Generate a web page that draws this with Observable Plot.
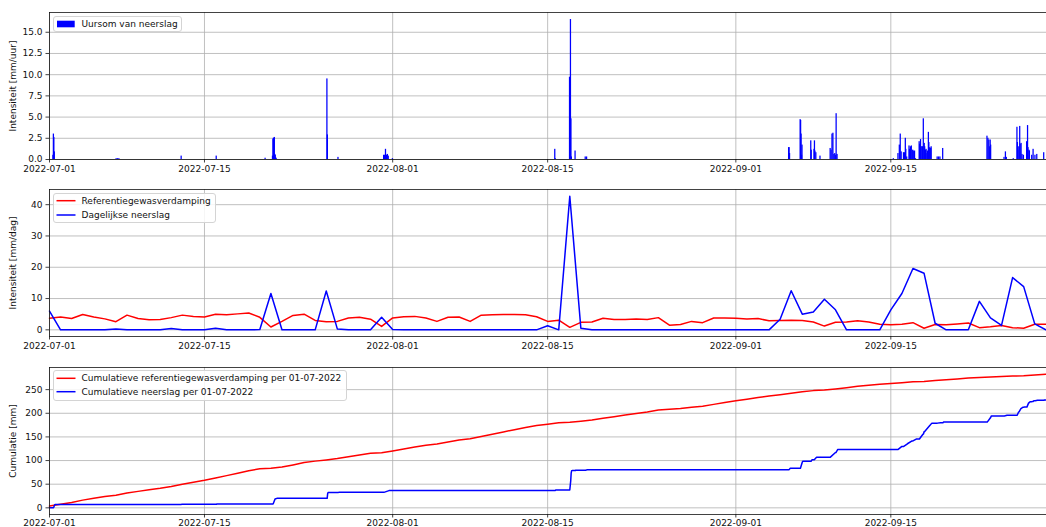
<!DOCTYPE html>
<html>
<head>
<meta charset="utf-8">
<script src="https://cdn.jsdelivr.net/npm/d3@7"></script>
<script src="https://cdn.jsdelivr.net/npm/@observablehq/plot@0.6"></script>
<style>
html, body { margin: 0; padding: 0; background: #fff; overflow: hidden; }
#root { position: relative; width: 1046px; height: 527px; font-family: "DejaVu Sans", sans-serif; }
.panel { position: absolute; left: 0; }
.legend { position: absolute; overflow: visible; }
</style>
</head>
<body>
<div id="root"></div>
<script>
// ---------- DATA ----------
const startDay = "2022-07-01";
const endDay = "2022-09-29"; // last daily value

// daily values, 1 July .. 29 September 2022 (mm/dag)
const dailyEvaporation = [
  3.7,4.1,3.6,4.9,4.1,3.5,2.6,4.7,3.6,3.2,
  3.3,3.9,4.7,4.3,4.1,5.0,4.8,5.1,5.4,4.0,
  0.9,2.7,4.6,5.0,3.0,2.6,2.7,3.8,4.0,3.4,
  1.1,3.8,4.2,4.3,3.8,2.7,4.0,4.1,2.7,4.7,
  4.8,4.9,4.9,4.8,4.2,2.7,3.1,0.8,2.4,2.5,
  3.7,3.3,3.3,3.5,3.3,3.9,1.5,1.7,2.7,2.3,
  3.8,3.8,3.7,3.5,3.6,2.9,3.0,3.1,3.0,2.5,
  1.2,2.4,2.5,2.9,2.5,1.8,1.6,1.8,2.3,0.5,
  1.7,1.6,1.9,2.2,0.7,1.0,1.4,0.7,0.5,1.8,
  1.8
];
const dailyPrecipitation = [
  6.0,0,0,0,0,0,0.3,0,0,0,
  0,0.4,0,0,0,0.5,0,0,0,0.1,
  11.6,0,0,0,0,12.4,0.3,0,0,0,
  4.0,0.1,0,0,0,0,0,0,0,0,
  0,0,0,0,0,1.3,0,42.7,0.5,0,
  0,0,0,0,0,0,0,0,0,0,
  0,0,0,0,0,0,3.4,12.5,5.0,5.7,
  9.8,6.4,0,0,0,0,6.4,11.6,19.6,18.1,
  2.1,0,0,0,9.1,3.8,1.4,16.7,13.8,1.9,
  0
];
// cumulative reference evaporation (mm), same days
const cumulativeEvaporation = [
  3.7,7.8,11.4,16.3,20.4,23.9,26.5,31.2,34.8,38.0,
  41.3,45.2,49.9,54.2,58.3,63.3,68.1,73.2,78.6,82.6,
  83.5,86.2,90.8,95.8,98.8,101.4,104.1,107.9,111.9,115.3,
  116.4,120.2,124.4,128.7,132.5,135.2,139.2,143.3,146.0,150.7,
  155.5,160.4,165.3,170.1,174.3,177.0,180.1,180.9,183.3,185.8,
  189.5,192.8,196.1,199.6,202.9,206.8,208.3,210.0,212.7,215.0,
  218.8,222.6,226.3,229.8,233.4,236.3,239.3,242.4,245.4,247.9,
  249.1,251.5,254.0,256.9,259.4,261.2,262.8,264.6,266.9,267.4,
  269.1,270.7,272.6,274.8,275.5,276.5,277.9,278.6,279.1,280.9,
  282.7
];

// hourly precipitation sums (mm/uur), non-zero hours only
const hourlyTimes = [
  "2022-07-01T08","2022-07-01T09","2022-07-01T10","2022-07-01T11",
  "2022-07-07T01","2022-07-07T04","2022-07-07T07",
  "2022-07-12T22","2022-07-16T02","2022-07-20T12",
  "2022-07-21T04","2022-07-21T05","2022-07-21T06","2022-07-21T07","2022-07-21T08","2022-07-21T09","2022-07-21T10","2022-07-21T11","2022-07-21T12",
  "2022-07-26T02","2022-07-26T03","2022-07-27T02",
  "2022-07-31T05","2022-07-31T07","2022-07-31T09","2022-07-31T11","2022-07-31T13","2022-07-31T15",
  "2022-08-01T00","2022-08-15T16","2022-08-15T17",
  "2022-08-17T00","2022-08-17T01","2022-08-17T02","2022-08-17T03","2022-08-17T04","2022-08-17T12",
  "2022-08-18T10","2022-08-18T13",
  "2022-09-05T19","2022-09-05T20","2022-09-05T21",
  "2022-09-06T20","2022-09-06T21","2022-09-06T22","2022-09-06T23",
  "2022-09-07T00","2022-09-07T19","2022-09-07T20",
  "2022-09-08T02","2022-09-08T03","2022-09-08T04","2022-09-08T06","2022-09-08T15",
  "2022-09-09T13","2022-09-09T15","2022-09-09T17","2022-09-09T19","2022-09-09T21","2022-09-09T23",
  "2022-09-10T01","2022-09-10T02","2022-09-10T04",
  "2022-09-15T06","2022-09-15T16","2022-09-15T19","2022-09-15T21","2022-09-15T23",
  "2022-09-16T04","2022-09-16T06","2022-09-16T08","2022-09-16T09","2022-09-16T11","2022-09-16T16","2022-09-16T17","2022-09-16T19","2022-09-16T21",
  "2022-09-17T00","2022-09-17T01","2022-09-17T03","2022-09-17T04","2022-09-17T06","2022-09-17T14","2022-09-17T15","2022-09-17T17","2022-09-17T18","2022-09-17T20","2022-09-17T21","2022-09-17T23",
  "2022-09-18T01","2022-09-18T02","2022-09-18T04","2022-09-18T05","2022-09-18T07","2022-09-18T08","2022-09-18T10","2022-09-18T11","2022-09-18T12","2022-09-18T13","2022-09-18T15","2022-09-18T16",
  "2022-09-19T05","2022-09-19T08","2022-09-19T11","2022-09-19T17",
  "2022-09-23T17","2022-09-23T19","2022-09-23T21","2022-09-23T23",
  "2022-09-24T00","2022-09-24T01",
  "2022-09-25T06","2022-09-25T09","2022-09-25T11",
  "2022-09-26T02","2022-09-26T10","2022-09-26T11","2022-09-26T12","2022-09-26T14","2022-09-26T16","2022-09-26T17","2022-09-26T19","2022-09-26T21",
  "2022-09-27T00","2022-09-27T07","2022-09-27T08","2022-09-27T09","2022-09-27T10","2022-09-27T12","2022-09-27T13","2022-09-27T18","2022-09-27T21",
  "2022-09-28T01","2022-09-28T05","2022-09-28T20"
];
const hourlyValues = [
  0.5,3.0,2.6,0.9,
  0.1,0.1,0.1,
  0.4,0.4,0.15,
  0.4,2.4,2.5,2.5,2.6,0.6,0.5,0.2,0.1,
  9.5,2.9,0.25,
  0.5,0.5,1.2,0.5,0.6,0.4,
  0.1,1.2,0.1,
  9.7,9.6,16.5,4.8,0.3,1.0,
  0.3,0.3,
  1.4,1.4,0.7,
  4.7,4.6,3.0,0.5,
  1.7,2.2,1.1,
  1.2,2.2,1.0,0.8,0.4,
  1.3,1.1,3.0,3.1,0.6,0.7,
  0.5,5.4,0.6,
  0.1,0.7,1.7,3.0,0.9,
  0.8,0.8,2.5,1.2,0.3,1.6,1.2,1.5,1.6,
  1.1,1.0,0.9,1.0,0.1,2.1,1.8,2.35,1.5,1.5,1.5,4.8,
  1.9,1.5,1.1,1.2,0.7,1.0,3.2,2.0,1.3,1.4,1.3,1.5,
  0.3,0.3,0.3,1.3,
  2.75,2.5,2.3,1.5,
  2.3,1.7,
  0.25,0.9,0.25,
  0.1,3.8,2.0,1.1,1.5,3.9,1.8,1.9,0.6,
  0.5,2.1,2.0,4.0,1.4,1.1,1.0,0.5,1.2,
  0.5,0.6,0.8
];

// cumulative precipitation since 01-07-2022 (mm), read at its break points
const cumPrecipTimes = [
  "2022-07-01T00:00","2022-07-01T08:00","2022-07-01T09:00","2022-07-01T10:00","2022-07-01T11:00","2022-07-01T12:00",
  "2022-07-07T01:00","2022-07-07T08:00","2022-07-12T22:00","2022-07-12T23:00","2022-07-16T02:00","2022-07-16T03:00",
  "2022-07-20T12:00","2022-07-20T13:00","2022-07-21T04:00","2022-07-21T05:00","2022-07-21T09:00","2022-07-21T13:00",
  "2022-07-26T02:00","2022-07-26T03:00","2022-07-26T04:00","2022-07-27T02:00","2022-07-27T03:00",
  "2022-07-31T05:00","2022-07-31T16:00","2022-08-01T00:00","2022-08-01T01:00",
  "2022-08-15T16:00","2022-08-15T18:00",
  "2022-08-17T00:00","2022-08-17T01:00","2022-08-17T02:00","2022-08-17T03:00","2022-08-17T04:00","2022-08-17T05:00",
  "2022-08-17T12:00","2022-08-17T13:00","2022-08-18T10:00","2022-08-18T14:00",
  "2022-09-05T19:00","2022-09-05T22:00","2022-09-06T20:00","2022-09-07T00:00","2022-09-07T01:00",
  "2022-09-07T19:00","2022-09-07T21:00","2022-09-08T02:00","2022-09-08T07:00","2022-09-08T15:00","2022-09-08T16:00",
  "2022-09-09T13:00","2022-09-10T00:00","2022-09-10T01:00","2022-09-10T05:00",
  "2022-09-15T06:00","2022-09-15T07:00","2022-09-15T16:00","2022-09-16T00:00",
  "2022-09-16T04:00","2022-09-16T12:00","2022-09-16T22:00",
  "2022-09-17T00:00","2022-09-17T07:00","2022-09-17T14:00","2022-09-17T22:00","2022-09-17T23:00","2022-09-18T00:00",
  "2022-09-18T01:00","2022-09-18T06:00","2022-09-18T12:00","2022-09-18T17:00",
  "2022-09-19T05:00","2022-09-19T12:00","2022-09-19T17:00","2022-09-19T18:00",
  "2022-09-23T17:00","2022-09-24T00:00","2022-09-24T02:00","2022-09-25T06:00","2022-09-25T12:00",
  "2022-09-26T02:00","2022-09-26T03:00","2022-09-26T10:00","2022-09-26T13:00","2022-09-26T14:00","2022-09-26T18:00","2022-09-26T22:00",
  "2022-09-27T00:00","2022-09-27T01:00","2022-09-27T07:00","2022-09-27T11:00","2022-09-27T12:00","2022-09-27T14:00",
  "2022-09-27T18:00","2022-09-27T19:00","2022-09-27T21:00","2022-09-27T22:00",
  "2022-09-28T01:00","2022-09-28T06:00","2022-09-28T20:00","2022-09-28T21:00","2022-09-29T01:30"
];
const cumPrecipValues = [
  0,0,0.5,3.5,6.1,7.0,
  7.0,7.3,7.3,7.7,7.7,8.1,
  8.1,8.25,8.25,8.65,18.65,20.05,
  20.05,29.55,32.45,32.45,32.7,
  32.7,36.4,36.4,36.5,
  36.5,37.8,
  37.8,47.5,57.1,73.6,78.4,78.7,
  78.7,79.7,79.7,80.3,
  80.3,83.8,83.8,96.6,98.3,
  98.3,101.6,101.6,106.8,106.8,107.2,
  107.2,117.0,117.0,123.5,
  123.5,123.6,123.6,129.9,
  129.9,135.5,141.4,
  141.4,145.5,145.5,156.25,156.25,161.05,
  161.05,166.75,173.65,179.15,
  179.15,180.05,180.05,181.35,
  181.35,190.4,194.4,194.4,195.8,
  195.8,195.9,195.9,202.8,202.8,210.0,212.5,
  212.5,213.0,213.0,222.5,222.5,224.6,
  224.6,225.1,225.1,226.3,
  226.3,227.4,227.4,228.2,228.2
];

// axes
const xTickLabels = ["2022-07-01","2022-07-15","2022-08-01","2022-08-15","2022-09-01","2022-09-15"];
const yTicksHourly = [0, 2.5, 5, 7.5, 10, 12.5, 15];
const yTicksDaily = [0, 10, 20, 30, 40];
const yTicksCumulative = [0, 50, 100, 150, 200, 250];

// legend / axis texts
const labelHourlyY = "Intensiteit [mm/uur]";
const labelDailyY = "Intensiteit [mm/dag]";
const labelCumY = "Cumulatie [mm]";
const legendHourly = ["Uursom van neerslag"];
const legendDaily = ["Referentiegewasverdamping", "Dagelijkse neerslag"];
const legendCum = ["Cumulatieve referentiegewasverdamping per 01-07-2022", "Cumulatieve neerslag per 01-07-2022"];

// ---------- TABLES ----------
const utc = s => new Date(s + (s.length === 10 ? "T00:00Z" : (s.length === 13 ? ":00Z" : "Z")));
const days = d3.utcDays(utc(startDay), d3.utcDay.offset(utc(endDay), 1));
const daily = days.map((date, i) => ({
  date, evap: dailyEvaporation[i], precip: dailyPrecipitation[i], cumEvap: cumulativeEvaporation[i]
}));
const hourly = hourlyTimes.map((t, i) => {
  const start = utc(t);
  return {start, end: d3.utcHour.offset(start, 1), value: hourlyValues[i]};
});
const cumPrecip = cumPrecipTimes.map((t, i) => ({date: utc(t), value: cumPrecipValues[i]}));

const xTicks = xTickLabels.map(utc);
const xDomain = [utc("2022-07-01T00:00"), utc("2022-09-29T01:30")];
const fmtDate = d3.utcFormat("%Y-%m-%d");

const RED = "#ff0000", BLUE = "#0000ff";
const GRID = "#b0b0b0", SPINE = "#111";

function panel({height, marginTop, marginBottom, yDomain, yTicks, yFormat, yLabel, xPad, marks}) {
  return Plot.plot({
    width: 1046, height, marginLeft: 49, marginRight: 0, marginTop, marginBottom,
    style: {fontFamily: "DejaVu Sans, sans-serif", fontSize: "9px", color: "#111", background: "transparent", overflow: "visible"},
    x: {type: "utc", domain: xDomain, axis: null},
    y: {domain: yDomain, axis: null},
    marks: [
      Plot.gridX(xTicks, {stroke: GRID, strokeOpacity: 1, strokeWidth: 0.8}),
      Plot.gridY(yTicks, {stroke: GRID, strokeOpacity: 1, strokeWidth: 0.8}),
      ...marks,
      Plot.ruleY([yDomain[0]], {stroke: SPINE, strokeWidth: 0.8}),
      Plot.ruleY([yDomain[1]], {stroke: SPINE, strokeWidth: 0.8}),
      Plot.ruleX([xDomain[0]], {stroke: SPINE, strokeWidth: 0.8}),
      Plot.axisX(xTicks, {tickFormat: fmtDate, tickSize: 3.5, tickPadding: xPad, strokeWidth: 0.8, label: null}),
      Plot.axisY(yTicks, {tickFormat: yFormat, tickSize: 3.5, tickPadding: 3.5, strokeWidth: 0.8,
        label: yLabel, labelAnchor: "center", labelOffset: 40, labelArrow: "none"})
    ]
  });
}

const root = document.getElementById("root");
function place(el, top) {
  const d = document.createElement("div");
  d.className = "panel"; d.style.top = top + "px";
  d.appendChild(el); root.appendChild(d);
}

place(panel({
  height: 180, marginTop: 12, marginBottom: 21, xPad: 2.5,
  yDomain: [0, 17.33], yTicks: yTicksHourly, yFormat: d3.format(".1f"), yLabel: labelHourlyY,
  marks: [
    Plot.rectY(hourly, {x1: "start", x2: "end", y: "value", fill: BLUE, insetLeft: -0.4, insetRight: -0.4})
  ]
}), 0);

place(panel({
  height: 175, marginTop: 9, marginBottom: 19, xPad: 2.5,
  yDomain: [-2.13, 44.85], yTicks: yTicksDaily, yFormat: d3.format("d"), yLabel: labelDailyY,
  marks: [
    Plot.line(daily, {x: "date", y: "evap", stroke: RED, strokeWidth: 1.5}),
    Plot.line(daily, {x: "date", y: "precip", stroke: BLUE, strokeWidth: 1.5})
  ]
}), 180);

place(panel({
  height: 172, marginTop: 12, marginBottom: 13, xPad: 1.5,
  yDomain: [-14.1, 296.8], yTicks: yTicksCumulative, yFormat: d3.format("d"), yLabel: labelCumY,
  marks: [
    Plot.line(daily, {x: "date", y: "cumEvap", stroke: RED, strokeWidth: 1.5}),
    Plot.line(cumPrecip, {x: "date", y: "value", stroke: BLUE, strokeWidth: 1.5})
  ]
}), 355);

// ---------- LEGENDS (svg boxes with real text) ----------
const NS = "http://www.w3.org/2000/svg";
function el(name, attrs, parent) {
  const e = document.createElementNS(NS, name);
  for (const k in attrs) e.setAttribute(k, attrs[k]);
  parent.appendChild(e);
  return e;
}
function legend(box, items) {
  const svg = el("svg", {width: box.width + 2, height: box.height + 2, class: "legend"}, root);
  svg.style.left = (box.left - 1) + "px";
  svg.style.top = (box.top - 1) + "px";
  el("rect", {x: 1.5, y: 1.5, width: box.width - 1, height: box.height - 1, rx: 2.5, ry: 2.5,
    fill: "rgba(255,255,255,0.85)", stroke: "#d4d4d4", "stroke-width": 1}, svg);
  items.forEach(it => {
    if (it.kind === "patch") {
      el("rect", {x: 5, y: it.y + 1 - 3.3, width: 17.7, height: 6.6, fill: it.color}, svg);
    } else {
      el("line", {x1: 4.5, x2: 23.5, y1: it.y + 1, y2: it.y + 1, stroke: it.color, "stroke-width": 1.5}, svg);
    }
    const t = el("text", {x: 29.5, y: it.y + 1, "dominant-baseline": "central",
      "font-family": "DejaVu Sans, sans-serif", "font-size": 9, fill: "#111"}, svg);
    t.textContent = it.label;
  });
}
legend({left: 53, top: 16, width: 129, height: 16}, [
  {label: legendHourly[0], color: BLUE, kind: "patch", y: 8}
]);
legend({left: 53, top: 193, width: 163, height: 30}, [
  {label: legendDaily[0], color: RED, kind: "line", y: 7.7},
  {label: legendDaily[1], color: BLUE, kind: "line", y: 22}
]);
legend({left: 53, top: 370, width: 294, height: 31}, [
  {label: legendCum[0], color: RED, kind: "line", y: 8.3},
  {label: legendCum[1], color: BLUE, kind: "line", y: 21.7}
]);
</script>
</body>
</html>
